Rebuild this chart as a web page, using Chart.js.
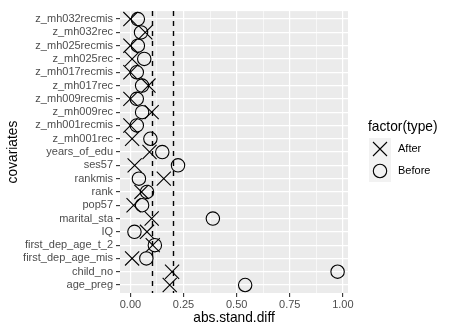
<!DOCTYPE html>
<html>
<head>
<meta charset="utf-8">
<script src="https://cdn.jsdelivr.net/npm/chart.js@4.4.1/dist/chart.umd.min.js"></script>
<style>
  html, body { margin: 0; padding: 0; background: #fff; }
</style>
</head>
<body>
<canvas id="balance-plot" width="454" height="333"></canvas>
<script>
// covariate balance: absolute standardized differences before / after matching
const categories = [
  'z_mh032recmis', 'z_mh032rec', 'z_mh025recmis', 'z_mh025rec', 'z_mh017recmis',
  'z_mh017rec', 'z_mh009recmis', 'z_mh009rec', 'z_mh001recmis', 'z_mh001rec',
  'years_of_edu', 'ses57', 'rankmis', 'rank', 'pop57', 'marital_sta', 'IQ',
  'first_dep_age_t_2', 'first_dep_age_mis', 'child_no', 'age_preg',
];
const afterValues = [
  0.0, 0.07, 0.0, 0.008, 0.0,
  0.085, 0.0, 0.10, 0.0, 0.008,
  0.09, 0.02, 0.157, 0.052, 0.015, 0.10, 0.078,
  0.105, 0.008, 0.196, 0.185,
];
const beforeValues = [
  0.035, 0.05, 0.035, 0.065, 0.03,
  0.055, 0.03, 0.055, 0.03, 0.094,
  0.15, 0.224, 0.04, 0.078, 0.055, 0.388, 0.019,
  0.115, 0.075, 0.975, 0.54,
];
const seriesNames = ['After', 'Before'];
const xTicks = [0, 0.25, 0.5, 0.75, 1];
const xMinorTicks = [0.125, 0.375, 0.625, 0.875];
const thresholds = [0.1, 0.2];

const FONT = "'Liberation Sans', Arial, sans-serif";
const PANEL_BG = '#EBEBEB';

const toPoints = (values) => values.map((v, i) => ({ x: v, y: i }));

const panelBackground = {
  id: 'panelBackground',
  beforeDraw(chart) {
    const { ctx, chartArea: a } = chart;
    ctx.save();
    ctx.fillStyle = PANEL_BG;
    ctx.fillRect(a.left, a.top, a.right - a.left, a.bottom - a.top);
    ctx.restore();
  },
};

const thresholdLines = {
  id: 'thresholdLines',
  afterDatasetsDraw(chart) {
    const { ctx, chartArea: a, scales } = chart;
    ctx.save();
    ctx.strokeStyle = '#000';
    ctx.lineWidth = 1.4;
    ctx.setLineDash([5, 5]);
    thresholds.forEach((t) => {
      const px = Math.round(scales.x.getPixelForValue(t)) + 0.5;
      ctx.beginPath();
      ctx.moveTo(px, a.top);
      ctx.lineTo(px, a.bottom);
      ctx.stroke();
    });
    ctx.restore();
  },
};

// ggplot-ish legend on the right
const sideLegend = {
  id: 'sideLegend',
  afterDraw(chart) {
    const { ctx } = chart;
    const left = 369;
    const key = 22;
    const top = 138;
    ctx.save();
    ctx.fillStyle = '#000';
    ctx.font = `13.75px ${FONT}`;
    ctx.textBaseline = 'middle';
    ctx.textAlign = 'left';
    ctx.fillText('factor(type)', left - 1, 127);

    chart.data.datasets.forEach((ds, i) => {
      const y0 = top + i * key;
      ctx.fillStyle = '#F2F2F2';
      ctx.fillRect(left, y0, key, key);
      const cx = left + key / 2;
      const cy = y0 + key / 2;
      ctx.strokeStyle = '#000';
      ctx.lineWidth = 1.1;
      ctx.beginPath();
      if (ds.pointStyle === 'crossRot') {
        const h = 7;
        ctx.moveTo(cx - h, cy - h); ctx.lineTo(cx + h, cy + h);
        ctx.moveTo(cx - h, cy + h); ctx.lineTo(cx + h, cy - h);
      } else {
        ctx.arc(cx, cy, 6.7, 0, Math.PI * 2);
      }
      ctx.stroke();
      ctx.fillStyle = '#000';
      ctx.font = `11px ${FONT}`;
      ctx.fillText(ds.label, left + key + 7, cy);
    });
    ctx.restore();
  },
};

const ctx = document.getElementById('balance-plot').getContext('2d');

// eslint-disable-next-line no-undef,no-unused-vars
const chart = new Chart(ctx, {
  type: 'scatter',
  data: {
    datasets: [
      {
        label: seriesNames[0],
        data: toPoints(afterValues),
        pointStyle: 'crossRot',
        pointRadius: 10,
        pointBorderWidth: 1.1,
        borderColor: '#000',
        backgroundColor: 'rgba(0,0,0,0)',
      },
      {
        label: seriesNames[1],
        data: toPoints(beforeValues),
        pointStyle: 'circle',
        pointRadius: 6.7,
        pointBorderWidth: 1.1,
        borderColor: '#000',
        backgroundColor: 'rgba(0,0,0,0)',
      },
    ],
  },
  options: {
    responsive: false,
    animation: false,
    events: [],
    layout: { padding: { left: 0, right: 106, top: 7, bottom: 0 } },
    plugins: {
      legend: { display: false },
      tooltip: { enabled: false },
    },
    scales: {
      x: {
        type: 'linear',
        min: -0.049,
        max: 1.024,
        afterBuildTicks(scale) {
          scale.ticks = xTicks.concat(xMinorTicks).sort((a, b) => a - b).map((v) => ({ value: v }));
        },
        afterFit(scale) { scale.height = 40; },
        border: { display: false },
        grid: {
          color: '#FFFFFF',
          lineWidth: (c) => (xMinorTicks.includes(c.tick && c.tick.value) ? 0.6 : 1.2),
          tickColor: (c) => (xMinorTicks.includes(c.tick && c.tick.value) ? 'rgba(0,0,0,0)' : '#333333'),
          tickWidth: 1.1,
          tickLength: 4,
        },
        ticks: {
          autoSkip: false,
          maxRotation: 0,
          padding: 1,
          color: '#4D4D4D',
          font: { family: FONT, size: 11 },
          callback: (v) => (xTicks.includes(v) ? v.toFixed(2) : ''),
        },
        title: {
          display: true,
          text: 'abs.stand.diff',
          color: '#000',
          font: { family: FONT, size: 13.75 },
          padding: { top: 0, bottom: 6.5 },
        },
      },
      y: {
        type: 'linear',
        reverse: true,
        min: -0.6,
        max: categories.length - 1 + 0.6,
        afterBuildTicks(scale) {
          scale.ticks = categories.map((c, i) => ({ value: i }));
        },
        afterFit(scale) { scale.width = 120; },
        border: { display: false },
        grid: {
          color: '#FFFFFF',
          lineWidth: 1.2,
          tickColor: '#333333',
          tickWidth: 1.1,
          tickLength: 4,
        },
        ticks: {
          autoSkip: false,
          padding: 3,
          color: '#4D4D4D',
          font: { family: FONT, size: 11 },
          callback: (v) => categories[v],
        },
        title: {
          display: true,
          text: 'covariates',
          color: '#000',
          font: { family: FONT, size: 13.75 },
          padding: { top: 5, bottom: 0 },
        },
      },
    },
  },
  plugins: [panelBackground, thresholdLines, sideLegend],
});
</script>
</body>
</html>
